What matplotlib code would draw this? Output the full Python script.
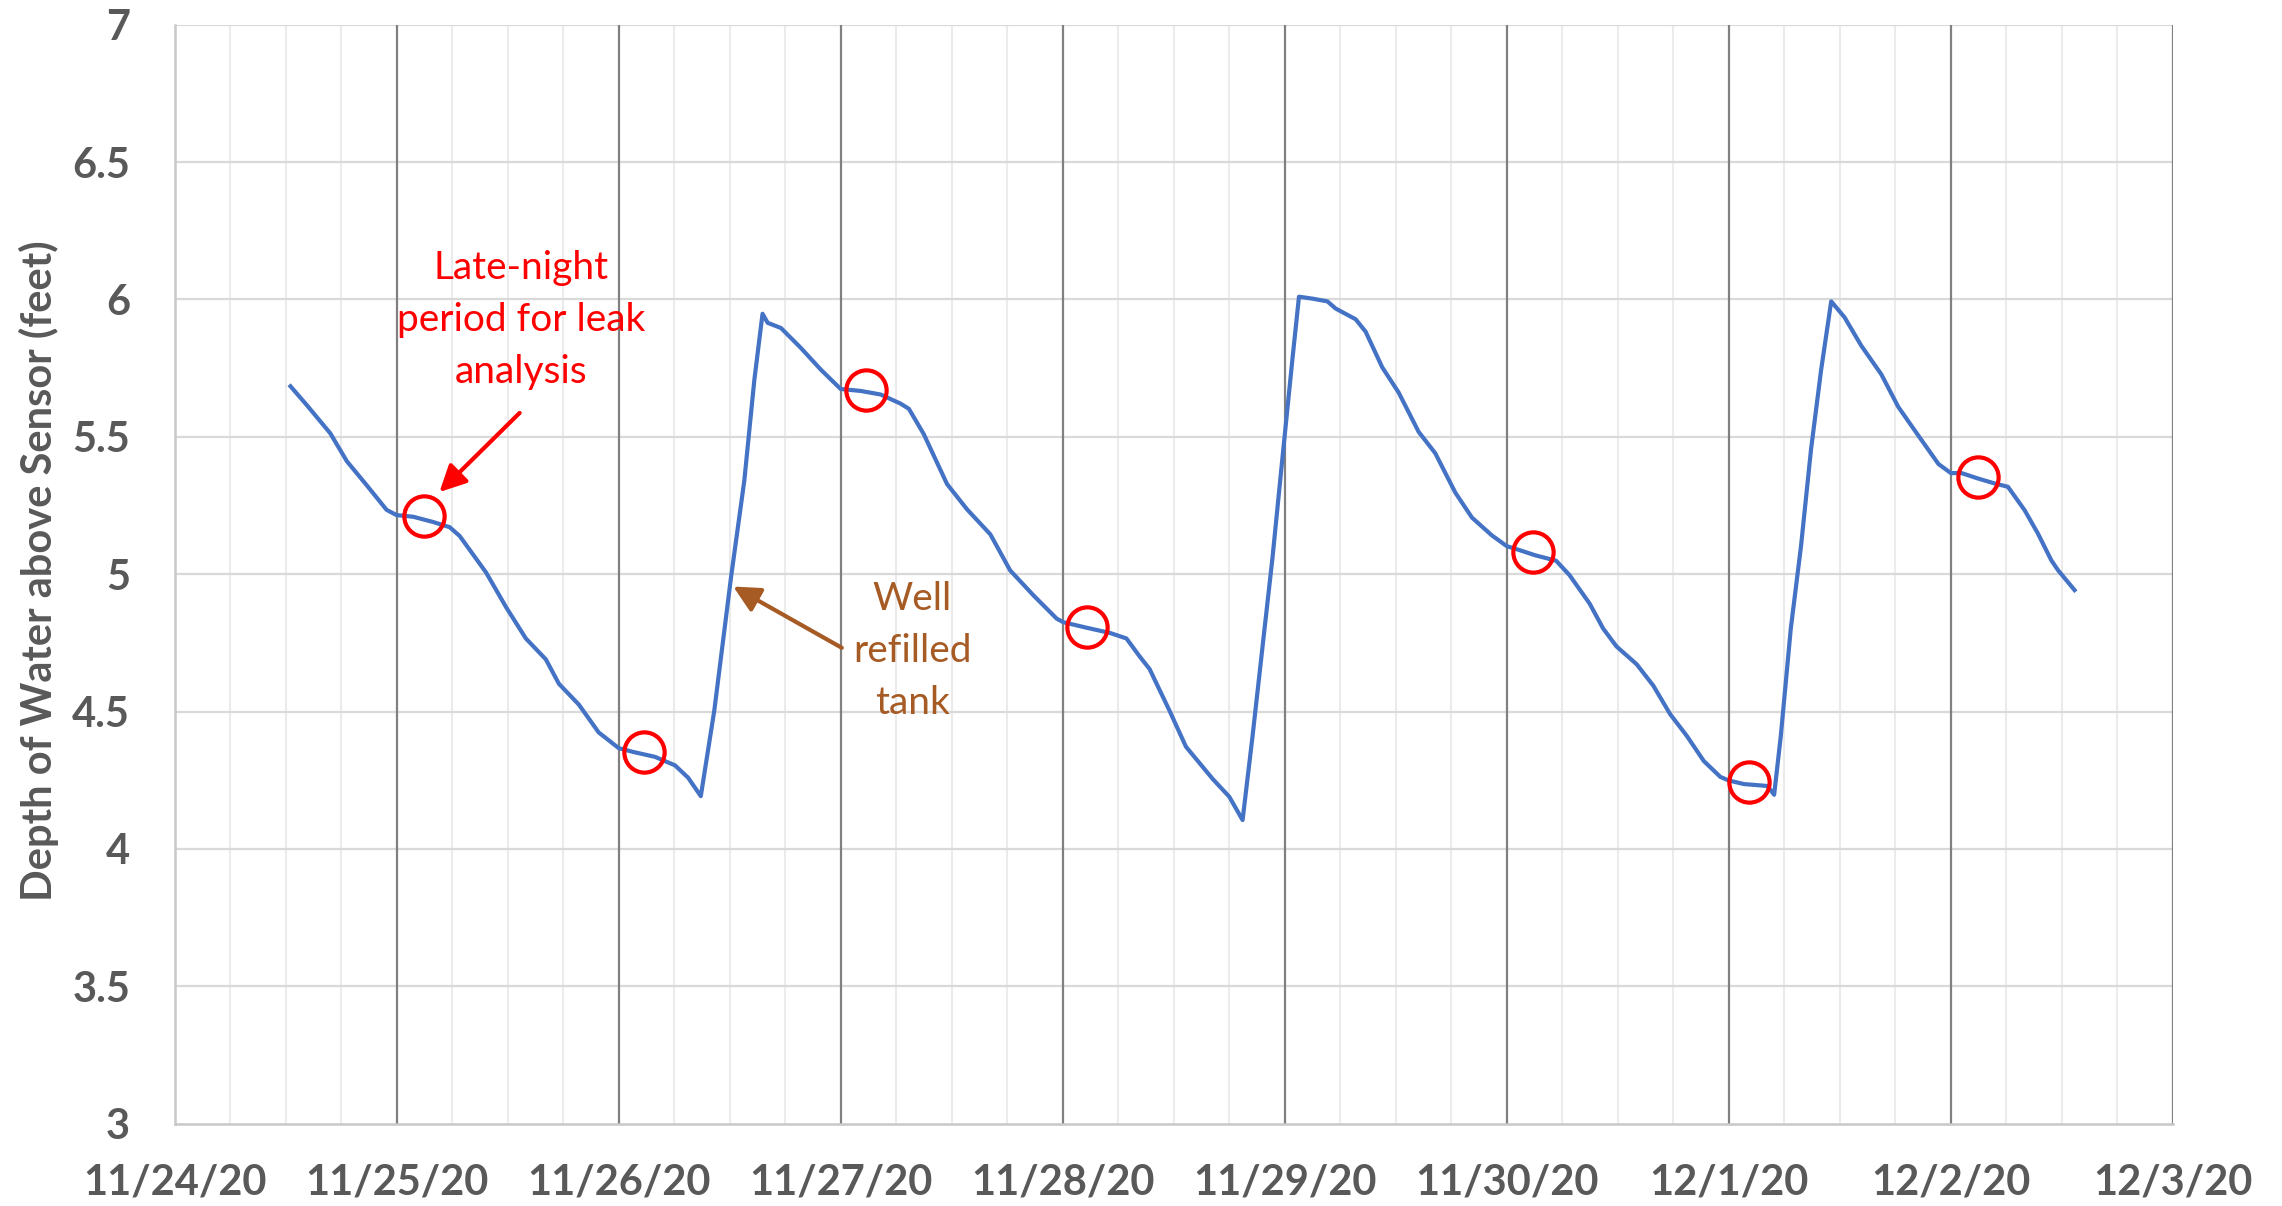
import numpy as np
import pandas as pd
import matplotlib
matplotlib.use("Agg")
from matplotlib import pyplot as plt

plt.rcParams['font.family'] = ['Lato', 'DejaVu Sans']

# days after 11/24/20 00:00
day_offset = [0.522, 0.597, 0.701, 0.776, 0.866, 0.955, 1.000, 1.075, 1.164, 1.239,
              1.284, 1.403, 1.493, 1.582, 1.672, 1.731, 1.821, 1.910, 2.000, 2.060,
              2.164, 2.254, 2.313, 2.370, 2.431, 2.506, 2.566, 2.611, 2.648, 2.671,
              2.731, 2.820, 2.910, 3.000, 3.090, 3.180, 3.269, 3.307, 3.374, 3.479,
              3.569, 3.674, 3.763, 3.868, 3.973, 4.003, 4.108, 4.213, 4.287, 4.347,
              4.391, 4.481, 4.555, 4.675, 4.750, 4.810, 4.855, 4.900, 4.945, 4.990,
              5.034, 5.064, 5.124, 5.192, 5.229, 5.319, 5.364, 5.439, 5.513, 5.603,
              5.678, 5.768, 5.843, 5.933, 6.000, 6.052, 6.127, 6.222, 6.282, 6.373,
              6.434, 6.494, 6.585, 6.660, 6.736, 6.811, 6.887, 6.962, 7.000, 7.068,
              7.174, 7.204, 7.234, 7.279, 7.325, 7.370, 7.415, 7.461, 7.521, 7.597,
              7.687, 7.763, 7.853, 7.944, 8.000, 8.048, 8.123, 8.198, 8.257, 8.332,
              8.392, 8.452, 8.482, 8.557]
depth_ft = [5.684, 5.614, 5.513, 5.411, 5.323, 5.234, 5.215, 5.209, 5.190, 5.171,
            5.139, 5.006, 4.880, 4.766, 4.690, 4.601, 4.525, 4.424, 4.367, 4.354,
            4.335, 4.304, 4.259, 4.192, 4.505, 4.988, 5.341, 5.706, 5.948, 5.915,
            5.896, 5.824, 5.745, 5.674, 5.667, 5.654, 5.621, 5.602, 5.510, 5.328,
            5.236, 5.145, 5.014, 4.923, 4.838, 4.825, 4.805, 4.786, 4.766, 4.700,
            4.655, 4.503, 4.372, 4.255, 4.190, 4.105, 4.411, 4.737, 5.062, 5.427,
            5.779, 6.010, 6.003, 5.993, 5.967, 5.928, 5.883, 5.753, 5.661, 5.518,
            5.440, 5.297, 5.206, 5.141, 5.102, 5.089, 5.069, 5.049, 4.997, 4.893,
            4.802, 4.737, 4.672, 4.594, 4.490, 4.411, 4.320, 4.262, 4.249, 4.236,
            4.229, 4.197, 4.411, 4.802, 5.102, 5.453, 5.740, 5.993, 5.935, 5.831,
            5.727, 5.609, 5.505, 5.401, 5.368, 5.368, 5.348, 5.330, 5.318, 5.233,
            5.148, 5.051, 5.015, 4.942]

# late-night periods (circled)
night_day = [1.122, 2.112, 3.115, 4.108, 6.117, 7.091, 8.123]
night_depth = [5.212, 4.352, 5.670, 4.809, 5.082, 4.245, 5.352]

day_labels = ["11/24/20", "11/25/20", "11/26/20", "11/27/20", "11/28/20",
              "11/29/20", "11/30/20", "12/1/20", "12/2/20", "12/3/20"]
depth_ticks = [3, 3.5, 4, 4.5, 5, 5.5, 6, 6.5, 7]

gray_txt = "#595959"

fig = plt.figure(figsize=(22.82, 12.06), dpi=100)
ax = fig.add_axes([0.0765, 0.0683, 0.8757, 0.9112])

# grid: light quarter-day lines, dark day lines, light horizontal lines
for q in np.arange(0.25, 9, 0.25):
    if abs(q - round(q)) > 1e-6:
        ax.axvline(q, color="#EBEBEB", lw=1.5, zorder=0)
for d in range(1, len(day_labels)):
    ax.axvline(d, color="#808080", lw=1.6, zorder=1)
for t in depth_ticks[1:]:
    ax.axhline(t, color="#D9D9D9", lw=1.6, zorder=0)

ax.plot(day_offset, depth_ft, color="#4472C4", lw=3.0, zorder=3,
        solid_joinstyle='round')
ax.plot(night_day, night_depth, 'o', ms=29, mfc='none', mec="#FF0000", mew=3, zorder=4)

ax.text(1.56, 5.925, "Late-night\nperiod for leak\nanalysis", color="#FF0000",
        fontsize=28, ha='center', va='center', linespacing=1.55)
ax.annotate('', xy=(1.193, 5.299), xytext=(1.554, 5.587),
            arrowprops=dict(arrowstyle='-|>', color="#FF0000", lw=3,
                            mutation_scale=40, shrinkA=0, shrinkB=0))

brown = "#A65A24"
ax.text(3.323, 4.722, "Well\nrefilled\ntank", color=brown,
        fontsize=28, ha='center', va='center', linespacing=1.55)
ax.annotate('', xy=(2.516, 4.955), xytext=(3.005, 4.732),
            arrowprops=dict(arrowstyle='-|>', color=brown, lw=3,
                            mutation_scale=40, shrinkA=0, shrinkB=0))

ax.set_xlim(0, 9)
ax.set_ylim(3, 7)
ax.set_xticks(range(len(day_labels)))
ax.set_xticklabels(day_labels)
ax.set_yticks(depth_ticks)
ax.set_yticklabels([f"{t:g}" for t in depth_ticks])
ax.tick_params(axis='both', length=0, labelsize=30, labelcolor=gray_txt)
ax.tick_params(axis='x', pad=29)
ax.tick_params(axis='y', pad=32)
for lbl in ax.get_xticklabels() + ax.get_yticklabels():
    lbl.set_fontweight('bold')

for side in ['top', 'right']:
    ax.spines[side].set_visible(False)
for side in ['left', 'bottom']:
    ax.spines[side].set_color("#C8C8C8")
    ax.spines[side].set_linewidth(1.8)

ax.set_ylabel("Depth of Water above Sensor (feet)", fontsize=30,
              fontweight='bold', color=gray_txt)
ax.yaxis.set_label_coords(-0.058, 0.503)

fig.savefig("out.png", dpi=100)
